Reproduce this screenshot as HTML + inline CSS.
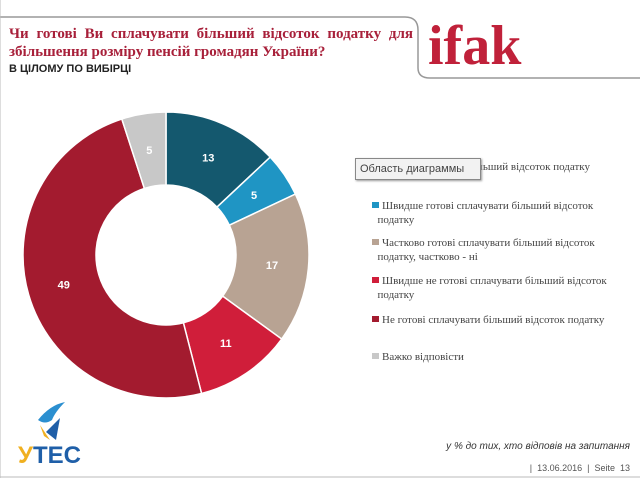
<!DOCTYPE html>
<html><head><meta charset="utf-8"><style>
body{margin:0;width:640px;height:480px;background:#fff;overflow:hidden;position:relative;font-family:"Liberation Serif","DejaVu Serif",serif}
.t{position:absolute;left:9px;top:25px;width:404px;color:#a8203a;font-weight:bold;font-size:15px;line-height:18px;text-align:justify;text-align-last:left}
.sub{position:absolute;left:9px;top:63px;font-family:"Liberation Sans",sans-serif;font-weight:bold;font-size:11px;color:#222}
.leg{position:absolute;left:372px;font-family:"Liberation Serif",serif;font-size:11px;color:#444;line-height:14px;width:240px}
.sw{display:inline-block;width:7px;height:6px;margin-right:3px;vertical-align:1px}
</style></head><body>
<svg width="640" height="480" style="position:absolute;left:0;top:0">
<path d="M0 17 H405 Q418 17 418 30 V68 Q418 78 430 78 H640" fill="none" stroke="#999" stroke-width="1.5"/>
<line x1="0" y1="0" x2="0" y2="478" stroke="#bbb"/>
<line x1="0" y1="477" x2="640" y2="477" stroke="#bbb"/>
<g id="donut"></g>
<text x="428" y="64" font-family="Liberation Serif,serif" font-weight="bold" font-size="56" fill="#c0213a">ifak</text>
<path d="M38 420 Q50 405 65 402 Q55 412 52 420 Q45 425 38 420Z" fill="#2b8fd0"/>
<path d="M46 432 L60 418 L56 440 Z" fill="#1f5fa8"/>
<path d="M40 425 L50 440 L44 436Z" fill="#f0b020"/>
<text x="18" y="463" font-family="Liberation Sans,sans-serif" font-weight="bold" font-size="24" fill="#1f5fa8"><tspan fill="#f0b020">У</tspan>ТЕС</text>
</svg>
<div class="t">Чи готові Ви сплачувати більший відсоток податку для збільшення розміру пенсій громадян України?</div>
<div class="sub">В ЦІЛОМУ ПО ВИБІРЦІ</div>
<div class="leg" style="top:160px"><span class="sw" style="background:#14586e"></span>Готові сплачувати більший відсоток податку</div>
<div style="position:absolute;left:355px;top:158px;width:120px;height:20px;border:1px solid #888;background:#f2f2f2;font-family:'Liberation Sans',sans-serif;font-size:11px;color:#444;line-height:20px;padding-left:4px;box-shadow:1px 1px 2px #999">Область диаграммы</div>
<div class="leg" style="top:199px"><span class="sw" style="background:#1f95c4"></span>Швидше готові сплачувати більший відсоток<br>&nbsp;&nbsp;податку</div>
<div class="leg" style="top:236px"><span class="sw" style="background:#b8a393"></span>Частково готові сплачувати більший відсоток<br>&nbsp;&nbsp;податку, частково - ні</div>
<div class="leg" style="top:274px"><span class="sw" style="background:#d01e3a"></span>Швидше не готові сплачувати більший відсоток<br>&nbsp;&nbsp;податку</div>
<div class="leg" style="top:313px"><span class="sw" style="background:#a31b2f"></span>Не готові сплачувати більший відсоток податку</div>
<div class="leg" style="top:350px"><span class="sw" style="background:#c8c8c8"></span>Важко відповісти</div>
<div style="position:absolute;right:10px;top:441px;font-style:italic;font-size:10px;color:#333;font-family:'Liberation Sans',sans-serif">у % до тих, хто відповів на запитання</div>
<div style="position:absolute;right:10px;top:463px;font-size:9px;color:#555;font-family:'Liberation Sans',sans-serif">|&nbsp;&nbsp;13.06.2016&nbsp;&nbsp;|&nbsp;&nbsp;Seite&nbsp;&nbsp;13</div>
<script>
const categories=["Готові","Швидше готові","Частково","Швидше не готові","Не готові","Важко відповісти"];
const values=[13,5,17,11,49,5];
const colors=["#14586e","#1f95c4","#b8a393","#d01e3a","#a31b2f","#c8c8c8"];
const cx=166,cy=255,R=143,r=70;
const g=document.getElementById('donut');
const total=values.reduce((a,b)=>a+b,0);
let a0=-Math.PI/2;
function pt(rad,a){return [cx+rad*Math.cos(a),cy+rad*Math.sin(a)];}
values.forEach((v,i)=>{
  const a1=a0+v/total*2*Math.PI;
  const large=(a1-a0)>Math.PI?1:0;
  const [x1,y1]=pt(R,a0),[x2,y2]=pt(R,a1),[x3,y3]=pt(r,a1),[x4,y4]=pt(r,a0);
  const p=document.createElementNS('http://www.w3.org/2000/svg','path');
  p.setAttribute('d',`M${x1} ${y1} A${R} ${R} 0 ${large} 1 ${x2} ${y2} L${x3} ${y3} A${r} ${r} 0 ${large} 0 ${x4} ${y4}Z`);
  p.setAttribute('fill',colors[i]);p.setAttribute('stroke','#fff');p.setAttribute('stroke-width','1.5');
  
  
  g.appendChild(p);
  const am=(a0+a1)/2,[lx,ly]=pt((R+r)/2,am);
  const t=document.createElementNS('http://www.w3.org/2000/svg','text');
  t.setAttribute('x',lx);t.setAttribute('y',ly+4);t.setAttribute('text-anchor','middle');
  t.setAttribute('font-family','Liberation Sans,sans-serif');t.setAttribute('font-weight','bold');t.setAttribute('font-size','11');t.setAttribute('fill','#fff');
  t.textContent=v;
  
  
  g.appendChild(t);
  a0=a1;
});
</script>
</body></html>
